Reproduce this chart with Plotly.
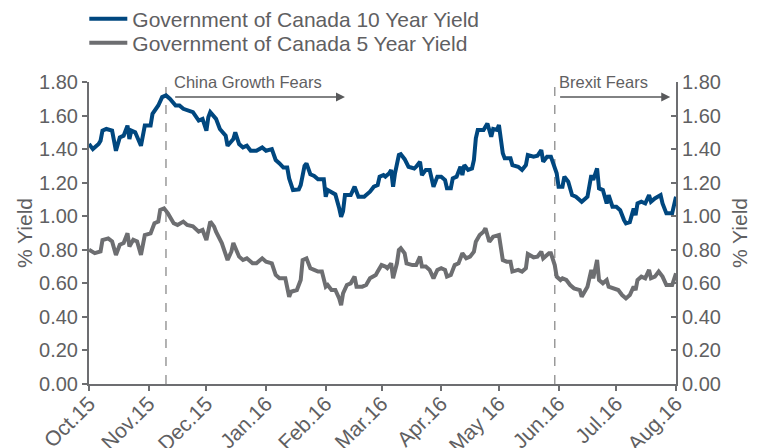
import pandas as pd
import plotly.graph_objects as go

START_DATE = "2015-10-01"

# days since START_DATE and yields (%)
days10 = [0, 2, 5, 6, 7, 9, 12, 14, 16, 18, 20, 21, 22, 24, 27, 29, 32, 33, 36, 38, 40, 42, 45, 47, 49, 51,
          54, 57, 59, 61, 62, 63, 65, 66, 68, 71, 72, 75, 76, 78, 80, 82, 84, 87, 90, 92, 95, 97, 99, 101,
          103, 104, 106, 109, 110, 112, 113, 115, 117, 119, 122, 123, 124, 126, 128, 130, 131, 132, 133,
          136, 137, 138, 140, 143, 144, 146, 148, 150, 151, 153, 154, 156, 157, 158, 159, 161, 162, 164,
          166, 169, 170, 172, 173, 175, 177, 179, 181, 183, 185, 186, 188, 189, 191, 193, 194, 195, 197,
          199, 200, 201, 202, 205, 207, 209, 210, 212, 213, 215, 216, 219, 220, 223, 225, 227, 228, 231,
          233, 235, 236, 238, 240, 242, 243, 244, 246, 247, 249, 251, 253, 256, 258, 259, 261, 262, 264,
          265, 267, 269, 270, 272, 274, 276, 278, 279, 281, 283, 284, 285, 287, 289, 291, 292, 294, 297,
          298, 300, 303, 305]
yield10 = [1.43, 1.40, 1.43, 1.45, 1.51, 1.52, 1.51, 1.39, 1.47, 1.48, 1.54, 1.46, 1.51, 1.50, 1.42, 1.54,
           1.54, 1.61, 1.66, 1.71, 1.72, 1.70, 1.66, 1.66, 1.64, 1.63, 1.62, 1.57, 1.58, 1.51, 1.59, 1.62,
           1.59, 1.58, 1.52, 1.48, 1.42, 1.46, 1.50, 1.43, 1.41, 1.42, 1.39, 1.39, 1.41, 1.39, 1.40, 1.335,
           1.315, 1.29, 1.29, 1.225, 1.156, 1.16, 1.186, 1.30, 1.315, 1.25, 1.24, 1.22, 1.22, 1.116, 1.156,
           1.14, 1.13, 1.047, 0.997, 1.03, 1.126, 1.126, 1.15, 1.176, 1.116, 1.116, 1.126, 1.146, 1.176,
           1.186, 1.236, 1.245, 1.236, 1.256, 1.276, 1.176, 1.256, 1.365, 1.37, 1.34, 1.295, 1.285, 1.295,
           1.325, 1.245, 1.276, 1.276, 1.176, 1.236, 1.236, 1.216, 1.166, 1.166, 1.226, 1.236, 1.295,
           1.245, 1.305, 1.276, 1.285, 1.335, 1.464, 1.514, 1.514, 1.553, 1.474, 1.52, 1.514, 1.544,
           1.375, 1.345, 1.345, 1.305, 1.295, 1.276, 1.305, 1.365, 1.355, 1.36, 1.394, 1.325, 1.355,
           1.355, 1.295, 1.256, 1.176, 1.176, 1.236, 1.206, 1.126, 1.116, 1.086, 1.106, 1.116, 1.245,
           1.216, 1.285, 1.166, 1.156, 1.076, 1.126, 1.057, 1.057, 1.036, 0.977, 0.958, 0.965, 1.046,
           1.006, 1.076, 1.086, 1.076, 1.126, 1.086, 1.106, 1.126, 1.076, 1.017, 1.017, 1.116]

days5 = [0, 3, 6, 7, 10, 12, 14, 16, 18, 20, 21, 23, 25, 27, 29, 32, 34, 36, 37, 39, 41, 44, 46, 49, 51,
         54, 57, 59, 61, 63, 65, 66, 69, 72, 74, 75, 78, 80, 82, 85, 87, 90, 92, 95, 97, 99, 102, 103,
         104, 105, 108, 110, 111, 113, 115, 117, 119, 121, 123, 124, 126, 128, 130, 131, 132, 134, 136,
         138, 139, 142, 144, 146, 149, 150, 152, 154, 155, 157, 158, 160, 161, 162, 164, 165, 168, 170,
         172, 173, 175, 177, 179, 181, 183, 185, 186, 188, 190, 192, 194, 196, 198, 200, 201, 203, 205,
         206, 208, 210, 212, 213, 215, 217, 219, 220, 223, 225, 227, 228, 231, 233, 235, 236, 239, 240,
         242, 243, 245, 246, 248, 250, 252, 255, 256, 258, 259, 261, 262, 264, 265, 267, 269, 270, 272,
         275, 277, 279, 281, 283, 284, 285, 287, 289, 291, 292, 294, 296, 298, 300, 303, 305]
yield5 = [0.80, 0.78, 0.79, 0.858, 0.868, 0.85, 0.769, 0.83, 0.84, 0.898, 0.82, 0.86, 0.85, 0.769, 0.888,
          0.898, 0.958, 0.968, 1.037, 1.047, 1.017, 0.958, 0.948, 0.968, 0.948, 0.94, 0.908, 0.918, 0.858,
          0.968, 0.938, 0.908, 0.84, 0.739, 0.79, 0.84, 0.759, 0.739, 0.749, 0.719, 0.719, 0.749, 0.729,
          0.719, 0.65, 0.63, 0.63, 0.58, 0.52, 0.55, 0.56, 0.62, 0.739, 0.749, 0.69, 0.68, 0.67, 0.67,
          0.58, 0.59, 0.56, 0.56, 0.51, 0.47, 0.54, 0.59, 0.60, 0.64, 0.58, 0.58, 0.59, 0.63, 0.65, 0.67,
          0.709, 0.70, 0.69, 0.719, 0.63, 0.719, 0.799, 0.809, 0.779, 0.719, 0.709, 0.709, 0.759, 0.70,
          0.70, 0.68, 0.63, 0.68, 0.69, 0.68, 0.64, 0.65, 0.709, 0.719, 0.779, 0.749, 0.759, 0.789, 0.848,
          0.888, 0.908, 0.928, 0.848, 0.878, 0.888, 0.888, 0.739, 0.729, 0.729, 0.67, 0.68, 0.67, 0.69,
          0.775, 0.755, 0.759, 0.789, 0.749, 0.779, 0.779, 0.709, 0.64, 0.62, 0.63, 0.62, 0.59, 0.57,
          0.56, 0.52, 0.56, 0.58, 0.68, 0.63, 0.739, 0.62, 0.60, 0.62, 0.58, 0.57, 0.56, 0.53, 0.51, 0.53,
          0.58, 0.56, 0.62, 0.64, 0.63, 0.68, 0.63, 0.64, 0.67, 0.64, 0.59, 0.59, 0.66]

tick_dates = ["2015-10-01", "2015-11-01", "2015-12-01", "2016-01-01", "2016-02-01", "2016-03-01",
              "2016-04-01", "2016-05-01", "2016-06-01", "2016-07-01", "2016-08-01"]
tick_labels = ["Oct.15", "Nov.15", "Dec.15", "Jan.16", "Feb.16", "Mar.16",
               "Apr.16", "May 16", "Jun.16", "Jul.16", "Aug.16"]
y_ticks = [0.0, 0.2, 0.4, 0.6, 0.8, 1.0, 1.2, 1.4, 1.6, 1.8]
y_tick_labels = ["%.2f" % v for v in y_ticks]

event_dates = ["2015-11-10", "2016-05-30"]
event_labels = ["China Growth Fears", "Brexit Fears"]
event_label_dates = ["2015-11-13", "2016-05-31"]
arrow_starts = ["2015-11-14", "2016-06-01"]
arrow_ends = ["2016-02-11", "2016-07-29"]

series_names = ["Government of Canada 10 Year Yield", "Government of Canada 5 Year Yield"]

BLUE = "#00477f"
GREY = "#6d6e71"
TEXT = "#5f6062"
AXIS = "#6d6e71"
FONT = "Liberation Sans, Arial, Helvetica, sans-serif"

start = pd.Timestamp(START_DATE)
dates10 = [start + pd.Timedelta(days=d) for d in days10]
dates5 = [start + pd.Timedelta(days=d) for d in days5]

fig = go.Figure()
fig.add_trace(go.Scatter(x=dates10, y=yield10, mode="lines", name=series_names[0],
                         line=dict(color=BLUE, width=4), legend="legend"))
fig.add_trace(go.Scatter(x=dates5, y=yield5, mode="lines", name=series_names[1],
                         line=dict(color=GREY, width=4), legend="legend2"))
fig.add_trace(go.Scatter(x=[dates5[0]], y=[None], yaxis="y2", showlegend=False,
                         hoverinfo="skip", mode="lines"))

for d in event_dates:
    fig.add_shape(type="line", xref="x", yref="paper", x0=d, x1=d, y0=0, y1=1,
                  line=dict(color="#9a9a9a", width=1.5, dash="dash"), layer="below")

for lbl, ld, a0, a1 in zip(event_labels, event_label_dates, arrow_starts, arrow_ends):
    fig.add_annotation(x=ld, y=1.80, xref="x", yref="y", text=lbl, showarrow=False,
                       xanchor="left", yanchor="middle",
                       font=dict(family=FONT, size=16.5, color=TEXT))
    fig.add_annotation(x=a1, y=1.71, xref="x", yref="y", ax=a0, ay=1.71, axref="x", ayref="y",
                       text="", showarrow=True, arrowhead=2, arrowsize=1.2, arrowwidth=1.5,
                       arrowcolor="#58595b")

axis_common = dict(range=[0, 1.8], tickvals=y_ticks, ticktext=y_tick_labels, showgrid=False,
                   zeroline=False, showline=True, linecolor=AXIS, linewidth=2, tickcolor=AXIS,
                   tickwidth=2, ticklen=5, tickfont=dict(family=FONT, size=20, color=TEXT),
                   automargin=False)

legend_common = dict(x=-0.008, xanchor="left", yanchor="middle", yref="container",
                     font=dict(family=FONT, size=21, color=TEXT), bgcolor="rgba(0,0,0,0)",
                     itemwidth=38, borderwidth=0)

# the page adds an 8px body margin, so the figure is sized 8px smaller
fig.update_layout(
    width=757, height=440,
    margin=dict(l=81, r=89, t=74, b=64),
    paper_bgcolor="white", plot_bgcolor="white",
    font=dict(family=FONT, color=TEXT),
    showlegend=True,
    legend=dict(**legend_common, y=0.975),
    legend2=dict(**legend_common, y=0.920),
    xaxis=dict(type="date", range=[tick_dates[0], tick_dates[-1]], tickvals=tick_dates,
               ticktext=tick_labels, tickangle=-45, showgrid=False, zeroline=False,
               showline=True, linecolor=AXIS, linewidth=2, ticks="outside", tickcolor=AXIS,
               tickwidth=2, ticklen=5, tickfont=dict(family=FONT, size=21, color=TEXT),
               ticklabelstandoff=-8, automargin=False),
    yaxis=dict(**axis_common, ticks="outside", side="left",
               title=dict(text="% Yield", font=dict(family=FONT, size=21, color=TEXT), standoff=1)),
    yaxis2=dict(**axis_common, ticks="inside", side="right", overlaying="y",
                title=dict(text="% Yield", font=dict(family=FONT, size=21, color=TEXT), standoff=12)),
)

fig.write_html("out.html")
